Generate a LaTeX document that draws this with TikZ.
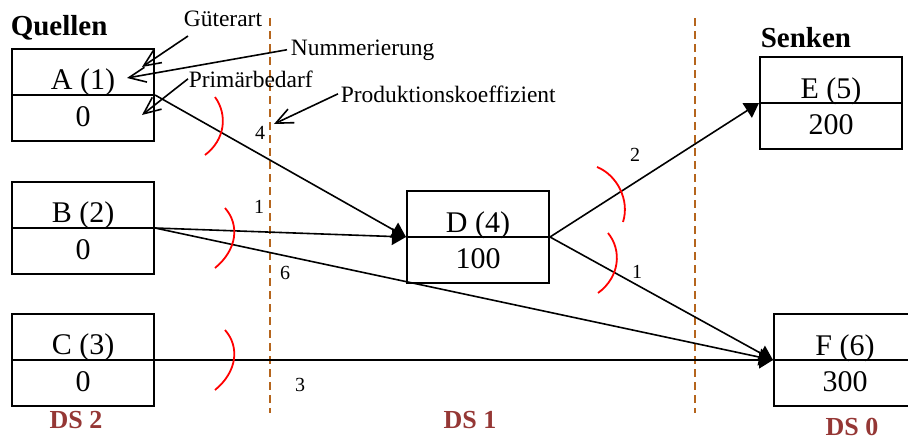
\documentclass[tikz,border=0pt]{standalone}
\usepackage{fontspec}
\setmainfont{Liberation Serif}
\usetikzlibrary{arrows.meta, positioning, calc}
\definecolor{cbrown}{HTML}{B5651D}
\definecolor{cdsred}{HTML}{953735}
\tikzset{
  every picture/.style={line width=1.6pt},
  gut/.style={draw=black, line width=2pt, minimum width=142pt, minimum height=92pt, inner sep=0pt},
  gutlabel/.style={font=\fontsize{30}{30}\selectfont, inner sep=0pt, anchor=base},
  flow/.style={-{Triangle[length=14pt, width=17pt]}, line width=1.6pt},
  hint/.style={-{Straight Barb[length=17pt, width=15pt]}, line width=1.6pt},
  cutmark/.style={draw=red, line width=1.8pt},
  stage/.style={draw=cbrown, line width=1.8pt, dash pattern=on 8pt off 5pt},
  coef/.style={font=\fontsize{20}{20}\selectfont, inner sep=0pt},
  heading/.style={font=\fontsize{29}{29}\selectfont\bfseries, inner sep=0pt, anchor=base west},
  dsname/.style={font=\fontsize{26}{26}\selectfont\bfseries, text=cdsred, inner sep=0pt, anchor=base},
  hinttext/.style={font=\fontsize{23.5}{23.5}\selectfont, inner sep=0pt, anchor=base west},
}
\begin{document}
\begin{tikzpicture}[x=1pt, y=-1pt]
  \useasboundingbox (0,0) rectangle (908,439);
  \clip (0,0) rectangle (908,439);
  % stages
  \draw[stage] (270,18) -- (270,413);
  \draw[stage] (695,18) -- (695,413);
  % goods
  \node[gut] (A) at (83,95) {};
  \node[gut] (B) at (83,228) {};
  \node[gut] (C) at (83,360) {};
  \node[gut] (D) at (478,237) {};
  \node[gut] (E) at (831,103) {};
  \node[gut] (F) at (845,360) {};
  \draw[line width=2pt] (A.west) -- (A.east);
  \draw[line width=2pt] (B.west) -- (B.east);
  \draw[line width=2pt] (C.west) -- (C.east);
  \draw[line width=2pt] (D.west) -- (D.east);
  \draw[line width=2pt] (E.west) -- (E.east);
  \draw[line width=2pt] (F.west) -- (F.east);
  \node[gutlabel] (Aname) at ($(A.center)+(0,-6)$) {A (1)};
  \node[gutlabel] (Aval) at ($(A.center)+(0,31)$) {0};
  \node[gutlabel] (Bname) at ($(B.center)+(0,-6)$) {B (2)};
  \node[gutlabel] (Bval) at ($(B.center)+(0,31)$) {0};
  \node[gutlabel] (Cname) at ($(C.center)+(0,-6)$) {C (3)};
  \node[gutlabel] (Cval) at ($(C.center)+(0,31)$) {0};
  \node[gutlabel] (Dname) at ($(D.center)+(0,-5)$) {D (4)};
  \node[gutlabel] (Dval) at ($(D.center)+(0,31)$) {100};
  \node[gutlabel] (Ename) at ($(E.center)+(0,-5)$) {E (5)};
  \node[gutlabel] (Eval) at ($(E.center)+(0,31)$) {200};
  \node[gutlabel] (Fname) at ($(F.center)+(0,-5)$) {F (6)};
  \node[gutlabel] (Fval) at ($(F.center)+(0,31)$) {300};
  % headings
  \node[heading] (quellen) at (10,35) {Quellen};
  \node[heading] (senken) at (760,47) {Senken};
  \node[dsname] (ds2) at (76,428) {DS 2};
  \node[dsname] (ds1) at (470,428) {DS 1};
  \node[dsname] (ds0) at (852,435) {DS 0};
  % flows
  \draw[flow] (A.east) -- (D.west);
  \draw[flow] (B.east) -- (D.west);
  \draw[flow] (B.east) -- (F.west);
  \draw[flow] (C.east) -- (F.west);
  \draw[flow] (D.east) -- (E.west);
  \draw[flow] (D.east) -- (F.west);
  \node[coef] (kAD) at (260,133) {4};
  \node[coef] (kBD) at (259,207) {1};
  \node[coef] (kBF) at (285,273) {6};
  \node[coef] (kCF) at (300,385) {3};
  \node[coef] (kDE) at (635,155) {2};
  \node[coef] (kDF) at (637,272) {1};
  % cuts
  \draw[cutmark] (215,97) .. controls (228,115) and (225,140) .. (205,155);
  \draw[cutmark] (225,208) .. controls (240,225) and (237,250) .. (215,268);
  \draw[cutmark] (225,330) .. controls (240,347) and (237,372) .. (215,390);
  \draw[cutmark] (597,167) .. controls (617,175) and (630,200) .. (623,222);
  \draw[cutmark] (608,233) .. controls (622,250) and (620,277) .. (598,293);
  % hints
  \node[hinttext] (art) at (183,27) {Güterart};
  \node[hinttext] (nr) at (290,55) {Nummerierung};
  \node[hinttext] (prim) at (188,87) {Primärbedarf};
  \node[hinttext] (koef) at (340,102) {Produktionskoeffizient};
  \coordinate (artTip) at (142,67);
  \coordinate (nrTip) at (127,78);
  \coordinate (primTip) at (142,115);
  \coordinate (koefTip) at (274,124);
  \draw[hint] ([shift={(5,8)}]art.south west) -- (artTip);
  \draw[hint] ([xshift=-3pt]nr.west) -- (nrTip);
  \draw[hint] (prim.west) -- (primTip);
  \draw[hint] ([xshift=-2pt]koef.west) -- (koefTip);
\end{tikzpicture}
\end{document}
